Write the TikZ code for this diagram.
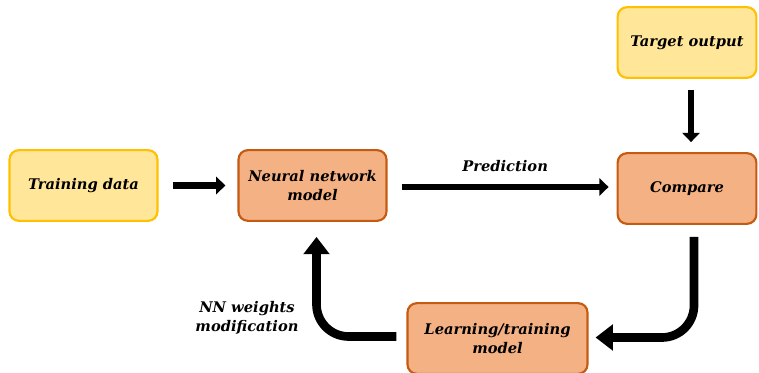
\documentclass[tikz,border=0pt]{standalone}
\usepackage{fontspec}
\setmainfont{DejaVu Serif}
\usepackage[dvipsnames]{xcolor}
\definecolor{boxyellow}{HTML}{FFE699}
\definecolor{lineyellow}{HTML}{FFC000}
\definecolor{boxorange}{HTML}{F4B183}
\definecolor{lineorange}{HTML}{C55A11}
\usetikzlibrary{calc}
\usetikzlibrary{arrows.meta}

\begin{document}
\begin{tikzpicture}[x=0.75pt, y=-0.75pt,
    every node/.style={font=\fontsize{11}{14}\selectfont\bfseries\itshape, align=center},
    databox/.style={draw=lineyellow, fill=boxyellow, line width=1.6pt,
      rounded corners=7pt, minimum height=53pt, inner sep=2pt},
    stepbox/.style={draw=lineorange, fill=boxorange, line width=1.6pt,
      rounded corners=7pt, minimum height=53pt, inner sep=2pt},
    flow/.style={line width=5pt, -{Triangle[length=7pt,width=13pt]}},
    bigflow/.style={line width=6.5pt, rounded corners=24pt,
      -{Triangle[length=13pt,width=19pt]}}]
      \useasboundingbox (0,0) rectangle (759,373);

      \node[databox, minimum width=111pt] (train) at (83.5,185.5) {Training data};
      \node[stepbox, minimum width=111pt] (nn) at (312.5,185.5) {Neural network\\model};
      \node[databox, minimum width=104pt] (target) at (687,42.5) {Target output};
      \node[stepbox, minimum width=104pt] (cmp) at (687,188.5) {Compare};
      \node[stepbox, minimum width=135pt] (learn) at (497.5,338.5) {Learning/training\\model};

      \draw[flow] ($(train.east)+(14,0)$) -- ($(nn.west)+(-12,0)$);
      \draw[flow] ($(nn.east)+(14,1.5)$) -- ($(cmp.west)+(-8,-1.5)$)
        node[midway, above=6pt] (pred) {Prediction};
      \draw[flow] ($(target.south)+(4,11)$) -- ($(cmp.north)+(4,-10)$);

      \draw[bigflow] ($(cmp.south)+(7,12)$) |- ($(learn.east)+(7,-1)$);
      \draw[bigflow] ($(learn.west)+(-10,-2)$) -| ($(nn.south)+(4,15)$);
      \node (nnmod) at (247,318) {NN weights\\modification};
\end{tikzpicture}
\end{document}
